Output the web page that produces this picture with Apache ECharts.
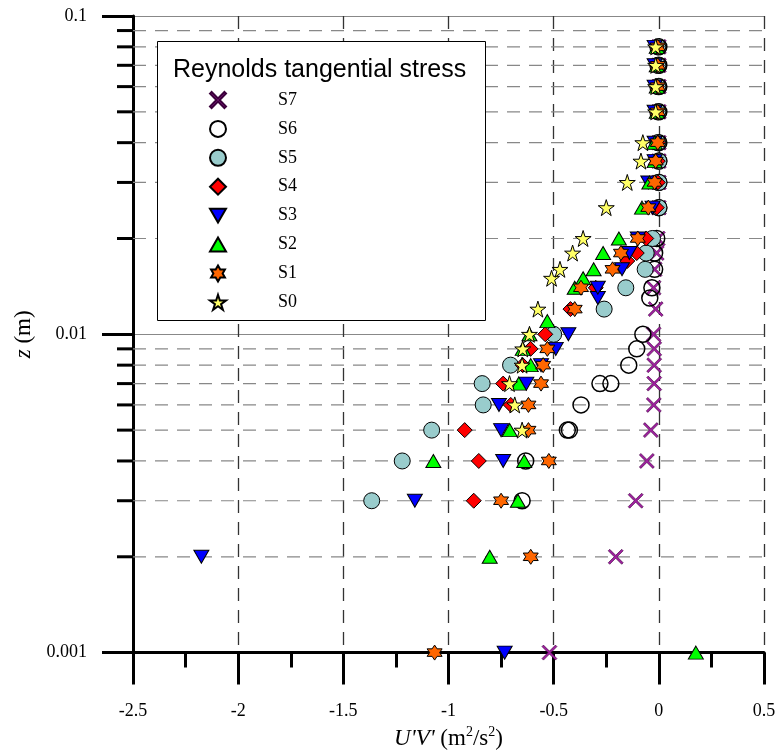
<!DOCTYPE html>
<html><head><meta charset="utf-8">
<script src="https://cdn.jsdelivr.net/npm/echarts@6/dist/echarts.min.js"></script>
<style>html,body{margin:0;padding:0;background:#fff}#c{width:779px;height:755px}</style>
</head><body><div id="c"></div>
<script>
// ---- data (z in m, U'V' in m2/s2) ----
const seriesNames = ['S7','S6','S5','S4','S3','S2','S1','S0'];

const S7_z  = [0.001,0.002,0.003,0.004,0.005,0.006,0.007,0.008,0.009,0.01,0.012,0.014,0.016,0.018,0.02,0.025,0.03,0.035,0.04,0.05,0.06,0.07,0.08];
const S7_uv = [-0.52,-0.205,-0.11,-0.057,-0.038,-0.024,-0.022,-0.022,-0.022,-0.025,-0.015,-0.025,-0.02,-0.01,-0.005,0,0,0,0,0,0,0,0];

const S6_z  = [0.003,0.004,0.005,0.005,0.006,0.007,0.007,0.008,0.009,0.01,0.013,0.014,0.016,0.018,0.02,0.025,0.03,0.035,0.04,0.05,0.06,0.07,0.08];
const S6_uv = [-0.65,-0.633,-0.435,-0.425,-0.37,-0.28,-0.228,-0.143,-0.105,-0.076,-0.043,-0.033,-0.02,-0.02,-0.01,0,0,0,0,0,0,0,0];

const S5_z  = [0.003,0.004,0.005,0.006,0.007,0.008,0.01,0.012,0.014,0.016,0.018,0.02,0.025,0.03,0.035,0.04,0.05,0.06,0.07,0.08];
const S5_uv = [-1.365,-1.22,-1.08,-0.835,-0.84,-0.705,-0.5,-0.26,-0.157,-0.065,-0.06,-0.03,0,0,0,-0.005,-0.005,-0.005,-0.005,-0.005];

const S4_z  = [0.003,0.004,0.005,0.006,0.007,0.008,0.009,0.01,0.012,0.014,0.017,0.018,0.02,0.025,0.03,0.035,0.04,0.05,0.06,0.07,0.08];
const S4_uv = [-0.88,-0.856,-0.923,-0.704,-0.74,-0.647,-0.61,-0.54,-0.42,-0.30,-0.15,-0.105,-0.06,-0.01,-0.005,-0.005,-0.005,-0.01,-0.01,-0.01,-0.01];

const S3_z  = [0.001,0.002,0.003,0.004,0.005,0.006,0.007,0.008,0.009,0.01,0.013,0.014,0.016,0.018,0.02,0.025,0.03,0.035,0.04,0.05,0.06,0.07,0.08];
const S3_uv = [-0.733,-2.175,-1.16,-0.74,-0.75,-0.76,-0.63,-0.56,-0.49,-0.43,-0.29,-0.29,-0.175,-0.14,-0.10,-0.03,-0.05,-0.02,-0.02,-0.02,-0.02,-0.02,-0.02];

const S2_z  = [0.001,0.002,0.003,0.004,0.004,0.005,0.007,0.008,0.009,0.01,0.011,0.014,0.015,0.016,0.018,0.02,0.025,0.03,0.035,0.04,0.05,0.06,0.07,0.08];
const S2_uv = [0.176,-0.804,-0.67,-1.072,-0.64,-0.709,-0.666,-0.609,-0.647,-0.615,-0.53,-0.40,-0.36,-0.31,-0.265,-0.19,-0.08,-0.045,-0.02,-0.02,-0.01,-0.01,-0.01,-0.01];

const S1_z  = [0.001,0.002,0.003,0.004,0.005,0.006,0.007,0.008,0.009,0.012,0.014,0.016,0.018,0.02,0.025,0.03,0.035,0.04,0.05,0.06,0.07,0.08];
const S1_uv = [-1.066,-0.609,-0.75,-0.523,-0.62,-0.62,-0.56,-0.55,-0.53,-0.40,-0.37,-0.22,-0.18,-0.10,-0.05,-0.02,-0.015,-0.005,-0.005,-0.005,-0.005,-0.005];

const S0_z  = [0.005,0.006,0.007,0.008,0.009,0.01,0.012,0.015,0.016,0.018,0.02,0.025,0.03,0.035,0.04,0.05,0.06,0.07,0.08];
const S0_uv = [-0.65,-0.685,-0.71,-0.65,-0.647,-0.615,-0.575,-0.51,-0.47,-0.41,-0.36,-0.25,-0.15,-0.085,-0.076,-0.015,-0.015,-0.015,-0.015];

// axis ranges and minor (log) grid values
const X_MIN = -2.5, X_MAX = 0.5, X_STEP = 0.5;
const Z_MIN = 0.001, Z_MAX = 0.1;
const minorZ = [0.002,0.003,0.004,0.005,0.006,0.007,0.008,0.009,0.02,0.03,0.04,0.05,0.06,0.07,0.08,0.09];

// ---- symbols ----
const SYM_X    = 'path://M0,1 L1,0 L5,4 L9,0 L10,1 L6,5 L10,9 L9,10 L5,6 L1,10 L0,9 L4,5 Z';
const SYM_TUP  = 'path://M50,0 L100,87 L0,87 Z';
const SYM_TDN  = 'path://M0,0 L100,0 L50,87 Z';
const SYM_HEX  = 'path://M50,0 L64.43,25 L93.3,25 L78.87,50 L93.3,75 L64.43,75 L50,100 L35.57,75 L6.7,75 L21.13,50 L6.7,25 L35.57,25 Z';
const SYM_STAR = 'path://M50,0 L61.2,34.5 L97.6,34.5 L68.2,55.9 L79.4,90.5 L50,69.1 L20.6,90.5 L31.8,55.9 L2.4,34.5 L38.8,34.5 Z';

function mk(name, zs, uvs, symbol, size, color, border, bw) {
  return {
    name, type: 'scatter', symbol, symbolSize: size,
    data: zs.map((z, i) => [uvs[i], z]),
    itemStyle: { color, borderColor: border, borderWidth: bw, opacity: 1 },
    emphasis: { disabled: true }, z: 3, animation: false
  };
}

const chart = echarts.init(document.getElementById('c'), null, { renderer: 'canvas' });
const serif = 'Liberation Serif';

chart.setOption({
  animation: false,
  backgroundColor: '#fff',
  grid: { left: 133, right: 15, top: 16, bottom: 97, containLabel: false },
  title: {
    text: 'Reynolds tangential stress', left: 173, top: 58, padding: 0, z: 6,
    textStyle: { fontFamily: 'Liberation Sans', fontSize: 25, fontWeight: 'normal', color: '#000' }
  },
  graphic: [{
    type: 'rect', left: 157, top: 41, z: 4,
    shape: { width: 328, height: 279 },
    style: { fill: '#fff', stroke: '#000', lineWidth: 1 }
  }],
  legend: {
    data: seriesNames, orient: 'vertical', left: 209, top: 91, padding: 0,
    itemWidth: 16, itemHeight: 16, itemGap: 10.9, selectedMode: false, z: 6,
    formatter: n => '{g|}{t|' + n + '}',
    textStyle: {
      rich: {
        g: { width: 47 },
        t: { fontFamily: serif, fontSize: 18, color: '#000', lineHeight: 18 }
      }
    }
  },
  xAxis: {
    type: 'value', min: X_MIN, max: X_MAX, interval: X_STEP,
    name: "{i|U'V'}{n|\u00a0(m}{s|2}{n|/s}{s|2}{n|)}", nameLocation: 'middle', nameGap: 69,
    nameTextStyle: {
      rich: {
        i: { fontFamily: serif, fontStyle: 'italic', fontSize: 23, color: '#000', lineHeight: 26 },
        n: { fontFamily: serif, fontSize: 23, color: '#000', lineHeight: 26 },
        s: { fontFamily: serif, fontSize: 14, color: '#000', verticalAlign: 'top', lineHeight: 26 }
      }
    },
    axisLine: { show: true, onZero: false, lineStyle: { color: '#000', width: 3 } },
    axisTick: { show: true, inside: false, length: 32, lineStyle: { color: '#000', width: 3 } },
    minorTick: { show: true, splitNumber: 2, length: 15, lineStyle: { color: '#000', width: 3 } },
    axisLabel: { margin: 50, fontFamily: serif, fontSize: 18, color: '#000',
      formatter: v => String(parseFloat(v.toFixed(2))) },
    splitLine: { show: true, lineStyle: { color: '#333', width: 1.3, type: [13, 9] } },
    minorSplitLine: { show: false }
  },
  yAxis: {
    type: 'log', logBase: 10, min: Z_MIN, max: Z_MAX,
    name: '{i|z}{n|\u00a0(m)}', nameLocation: 'middle', nameGap: 93,
    nameTextStyle: {
      rich: {
        i: { fontFamily: serif, fontStyle: 'italic', fontSize: 23, color: '#000' },
        n: { fontFamily: serif, fontSize: 23, color: '#000' }
      }
    },
    axisLine: { show: true, onZero: false, lineStyle: { color: '#000', width: 3 } },
    axisTick: { show: true, inside: false, length: 31, lineStyle: { color: '#000', width: 3 } },
    axisLabel: { margin: 46, fontFamily: serif, fontSize: 18, color: '#000',
      formatter: v => String(parseFloat(Number(v).toPrecision(6))) },
    splitLine: { show: true, lineStyle: { color: '#888', width: 1, type: 'solid' } }
  },
  series: [
    {
      name: 'minor', type: 'custom', coordinateSystem: 'cartesian2d', silent: true, clip: false, z: 1,
      data: minorZ.map(z => [X_MIN, z]),
      renderItem: (params, api) => {
        const v = api.value(1);
        const p0 = api.coord([X_MIN, v]);
        const p1 = api.coord([X_MAX, v]);
        return {
          type: 'group', children: [
            { type: 'line', shape: { x1: p0[0], y1: p0[1], x2: p1[0], y2: p1[1] },
              style: { stroke: '#888', lineWidth: 1.2, lineDash: [13, 9] } },
            { type: 'line', shape: { x1: p0[0] - 16, y1: p0[1], x2: p0[0], y2: p0[1] },
              style: { stroke: '#000', lineWidth: 3 } }
          ]
        };
      }
    },
    mk('S7', S7_z, S7_uv, SYM_X, 15, '#A020A0', '#3a003a', 0.6),
    mk('S6', S6_z, S6_uv, 'circle', 16, 'rgba(255,255,255,0)', '#000', 1.5),
    mk('S5', S5_z, S5_uv, 'circle', 16, '#99CCCC', '#000', 1),
    mk('S4', S4_z, S4_uv, 'diamond', 15, '#FF0000', '#000', 1),
    mk('S3', S3_z, S3_uv, SYM_TDN, [15, 13], '#0000FF', '#000', 1),
    mk('S2', S2_z, S2_uv, SYM_TUP, [15, 13], '#00FF00', '#000', 1),
    mk('S1', S1_z, S1_uv, SYM_HEX, 15, '#FF6600', '#000', 1),
    mk('S0', S0_z, S0_uv, SYM_STAR, 16, '#FFFF66', '#000', 1)
  ]
});
</script>
</body></html>
